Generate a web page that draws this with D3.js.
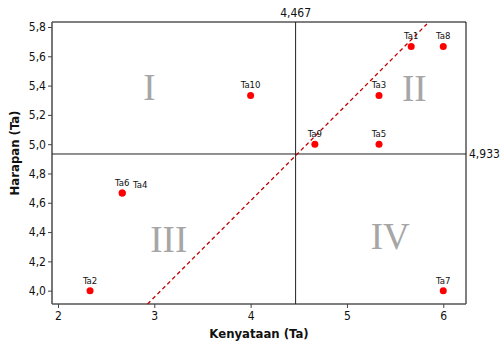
<!DOCTYPE html>
<html>
<head>
<meta charset="utf-8">
<script src="https://cdn.jsdelivr.net/npm/d3@7"></script>
<style>
  html, body { margin: 0; padding: 0; background: #fff; }
  svg { display: block; }
</style>
</head>
<body>
<svg id="chart" width="500" height="344"></svg>
<script>
// Item labels and their (Kenyataan, Harapan) scores
const items      = ["Ta1", "Ta2", "Ta3", "Ta4", "Ta5", "Ta6", "Ta7", "Ta8", "Ta9", "Ta10"];
const kenyataan  = [5.667, 2.333, 5.333, 2.667, 5.333, 2.667, 6.0, 6.0, 4.667, 4.0];
const harapan    = [5.667, 4.0, 5.333, 4.667, 5.0, 4.667, 4.0, 5.667, 5.0, 5.333];

// Mean reference lines
const meanKenyataan = 4.467;
const meanHarapan = 4.933;

// Diagonal reference line end points [x, y]
const diagonal = [[2.93, 3.909], [5.83, 5.82]];

// Quadrant labels with their centre positions in data units
const quadrantNames = ["I", "II", "III", "IV"];
const quadrantX = [2.95, 5.7, 3.15, 5.45];
const quadrantY = [5.39, 5.38, 4.35, 4.37];

// Axis ticks
const xTicks = [2, 3, 4, 5, 6];
const yTicks = [4.0, 4.2, 4.4, 4.6, 4.8, 5.0, 5.2, 5.4, 5.6, 5.8];

const svg = d3.select("#chart");
const L = 52, R = 466, T = 22, B = 304;

const x = d3.scaleLinear().domain([1.938, 6.236]).range([L, R]);
const y = d3.scaleLinear().domain([3.909, 5.834]).range([B, T]);

const fmt = d => d3.format(".1f")(d).replace(".", ",");
const comma = v => String(v).replace(".", ",");
const font = "'DejaVu Sans Condensed', 'DejaVu Sans', sans-serif";

// Frame (top and right edges)
svg.append("path")
  .attr("d", `M${L},${T}H${R}V${B}`)
  .attr("fill", "none").attr("stroke", "#000").attr("stroke-width", 1);

// Axes
const xAxis = svg.append("g").attr("transform", `translate(0,${B})`)
  .call(d3.axisBottom(x).tickValues(xTicks).tickSize(4).tickSizeOuter(0).tickPadding(3).tickFormat(d3.format("d")));
const yAxis = svg.append("g").attr("transform", `translate(${L},0)`)
  .call(d3.axisLeft(y).tickValues(yTicks).tickSize(4).tickSizeOuter(0).tickPadding(2).tickFormat(fmt));
[xAxis, yAxis].forEach(a => {
  a.select(".domain").attr("stroke", "#555").attr("stroke-width", 1.6);
  a.selectAll(".tick line").attr("stroke", "#444");
  a.selectAll(".tick text").attr("fill", "#111").style("font-family", font).style("font-size", "12px");
});
// extend axis domain lines to the frame corners
xAxis.select(".domain").attr("d", `M${L},0H${R}`);
yAxis.select(".domain").attr("d", `M0,${B}V${T}`);

// Mean lines
svg.append("line")
  .attr("x1", x(meanKenyataan)).attr("x2", x(meanKenyataan))
  .attr("y1", T).attr("y2", B)
  .attr("stroke", "#222").attr("stroke-width", 1);
svg.append("line")
  .attr("x1", L).attr("x2", R)
  .attr("y1", y(meanHarapan)).attr("y2", y(meanHarapan))
  .attr("stroke", "#222").attr("stroke-width", 1);

svg.append("text")
  .attr("x", x(meanKenyataan)).attr("y", T - 5)
  .attr("text-anchor", "middle")
  .style("font-family", font).style("font-size", "12px").attr("fill", "#111")
  .text(comma(meanKenyataan));
svg.append("text")
  .attr("x", R + 3).attr("y", y(meanHarapan) + 4)
  .attr("text-anchor", "start")
  .style("font-family", font).style("font-size", "12px").attr("fill", "#111")
  .text(comma(meanHarapan));

// Quadrant numerals
svg.selectAll("text.quad").data(quadrantNames).join("text")
  .attr("class", "quad")
  .attr("x", (d, i) => x(quadrantX[i]))
  .attr("y", (d, i) => y(quadrantY[i]))
  .attr("text-anchor", "middle").attr("dominant-baseline", "central")
  .style("font-family", "'Liberation Serif', 'Times New Roman', serif")
  .style("font-size", "37px").attr("fill", "#a6a6a6")
  .text(d => d);

// Diagonal dashed line
svg.append("line")
  .attr("x1", x(diagonal[0][0])).attr("y1", y(diagonal[0][1]))
  .attr("x2", x(diagonal[1][0])).attr("y2", y(diagonal[1][1]))
  .attr("stroke", "#c00000").attr("stroke-width", 1.3)
  .attr("stroke-dasharray", "4,3");

// Points
const pts = items.map((d, i) => ({ name: d, k: kenyataan[i], h: harapan[i] }));
svg.selectAll("circle.pt").data(pts).join("circle")
  .attr("class", "pt")
  .attr("cx", d => x(d.k)).attr("cy", d => y(d.h))
  .attr("r", 3.5).attr("fill", "#f00");

// Point labels (Ta4 shares its position with Ta6, so it is shifted right)
svg.selectAll("text.lbl").data(pts).join("text")
  .attr("class", "lbl")
  .attr("x", d => x(d.k) + (d.name === "Ta4" ? 18 : 0))
  .attr("y", d => y(d.h) - (d.name === "Ta4" ? 5 : 7))
  .attr("text-anchor", "middle")
  .style("font-family", font).style("font-size", "9.5px").attr("fill", "#111")
  .text(d => d.name);

// Axis titles
svg.append("text")
  .attr("x", (L + R) / 2).attr("y", 338)
  .attr("text-anchor", "middle")
  .style("font-family", font).style("font-size", "13px").style("font-weight", "bold").attr("fill", "#111")
  .text("Kenyataan (Ta)");
svg.append("text")
  .attr("transform", `translate(19,${(T + B) / 2 - 10}) rotate(-90)`)
  .attr("text-anchor", "middle")
  .style("font-family", font).style("font-size", "13px").style("font-weight", "bold").attr("fill", "#111")
  .text("Harapan (Ta)");
</script>
</body>
</html>
